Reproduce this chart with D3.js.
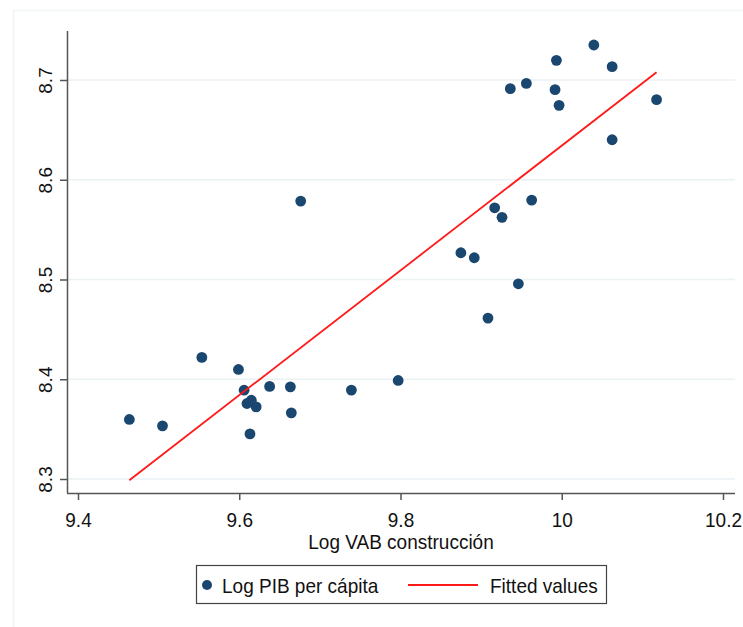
<!DOCTYPE html>
<html>
<head>
<meta charset="utf-8">
<script src="https://cdn.jsdelivr.net/npm/d3@7"></script>
<style>
  body { margin: 0; background: #fff; }
  svg { display: block; font-family: "Liberation Sans", Arial, sans-serif; }
</style>
</head>
<body>
<svg id="chart" width="743" height="627"></svg>
<script>
// Log VAB construcción (x) vs Log PIB per cápita (y)
const vab = [
  9.4637, 9.5048, 9.5536, 9.5990, 9.6060, 9.6096, 9.6150, 9.6210, 9.6133, 9.6377,
  9.6634, 9.6646, 9.6762, 9.7391, 9.7971, 9.8749, 9.8915, 9.9085, 9.9462, 9.9168,
  9.9259, 9.9627, 9.9362, 9.9561, 9.9917, 9.9934, 9.9967, 10.0398, 10.0625, 10.0625,
  10.1176
];
const pib = [
  8.3597, 8.3533, 8.4219, 8.4098, 8.3890, 8.3757, 8.3790, 8.3723, 8.3452, 8.3928,
  8.3924, 8.3663, 8.5786, 8.3891, 8.3988, 8.5268, 8.5218, 8.4613, 8.4957, 8.5719,
  8.5623, 8.5796, 8.6913, 8.6966, 8.6903, 8.7197, 8.6746, 8.7351, 8.7134, 8.6401,
  8.6803
];
// fitted values at the ends of the x range
const fitX = [9.4637, 10.1176];
const fitY = [8.2988, 8.7077];

const xTicks = [9.4, 9.6, 9.8, 10, 10.2];
const yTicks = [8.3, 8.4, 8.5, 8.6, 8.7];
const xTitle = "Log VAB construcción";
const legendLabels = ["Log PIB per cápita", "Fitted values"];

const NAVY = "#1a476f";
const RED = "#ff1a1a";
const GRID = "#eaf2f3";
const AXIS = "#555";
const STRETCH = 1.1; // the reference text is a bit taller than it is wide

const svg = d3.select("#chart");

// place a horizontal label with its baseline at (tx, ty), stretched vertically
function placeText(sel, tx, ty) {
  sel.attr("x", 0).attr("y", 0).attr("dy", null)
    .attr("transform", "translate(" + tx + "," + ty + ") scale(1," + STRETCH + ")")
    .attr("fill", "#111")
    .style("font-size", "19px");
}

// outer frame (only top and left visible)
svg.append("path")
  .attr("d", "M13.5,627 V10.5 H743")
  .attr("fill", "none")
  .attr("stroke", "#eef3f4")
  .attr("stroke-width", 1.5);

const plotLeft = 67, plotRight = 735, plotTop = 31, plotBottom = 493;

const x = d3.scaleLinear()
  .domain([9.4, 10.2])
  .range([78, 723]);
const y = d3.scaleLinear()
  .domain([8.3, 8.7])
  .range([479, 80]);

// gridlines
svg.append("g")
  .selectAll("line")
  .data(yTicks)
  .join("line")
  .attr("x1", plotLeft).attr("x2", plotRight)
  .attr("y1", d => y(d)).attr("y2", d => y(d))
  .attr("stroke", GRID)
  .attr("stroke-width", 1.6);

// y axis
let yAxis = svg.append("g")
  .attr("transform", "translate(" + plotLeft + ",0)")
  .call(d3.axisLeft(y).tickValues(yTicks).tickSize(7).tickSizeOuter(0).tickFormat(d3.format(".1f")));
yAxis.select(".domain").attr("d", "M0.5," + plotTop + "V" + plotBottom).attr("stroke", AXIS).attr("stroke-width", 1.5);
yAxis.selectAll(".tick line").attr("stroke", AXIS).attr("stroke-width", 1.5);
yAxis.selectAll(".tick text")
  .attr("x", null).attr("dy", null)
  .attr("transform", "translate(-15,0) rotate(-90)")
  .attr("text-anchor", "middle")
  .attr("fill", "#111")
  .style("font-size", "19px");

// x axis
let xAxis = svg.append("g")
  .attr("transform", "translate(0," + plotBottom + ")")
  .call(d3.axisBottom(x).tickValues(xTicks).tickSize(7).tickSizeOuter(0).tickFormat(d => String(+d.toFixed(1))));
xAxis.select(".domain").attr("d", "M" + plotLeft + ",0.5H" + plotRight).attr("stroke", AXIS).attr("stroke-width", 1.5);
xAxis.selectAll(".tick line").attr("stroke", AXIS).attr("stroke-width", 1.5);
xAxis.selectAll(".tick text").call(placeText, 0, 33.5);

svg.append("text")
  .attr("text-anchor", "middle")
  .text(xTitle)
  .call(placeText, (plotLeft + plotRight) / 2, 549);

// scatter points
svg.append("g")
  .selectAll("circle")
  .data(d3.range(vab.length))
  .join("circle")
  .attr("cx", i => x(vab[i]))
  .attr("cy", i => y(pib[i]))
  .attr("r", 5.4)
  .attr("fill", NAVY);

// fitted line
svg.append("path")
  .datum(d3.zip(fitX, fitY))
  .attr("d", d3.line().x(d => x(d[0])).y(d => y(d[1])))
  .attr("fill", "none")
  .attr("stroke", RED)
  .attr("stroke-width", 1.8);

// legend
let legend = svg.append("g");
legend.append("rect")
  .attr("x", 196.5).attr("y", 565.5)
  .attr("width", 410).attr("height", 38)
  .attr("fill", "#fff")
  .attr("stroke", "#444")
  .attr("stroke-width", 1.2);
legend.append("circle")
  .attr("cx", 207).attr("cy", 585)
  .attr("r", 5)
  .attr("fill", NAVY);
legend.append("text")
  .text(legendLabels[0])
  .call(placeText, 222, 593);
legend.append("line")
  .attr("x1", 408).attr("x2", 478)
  .attr("y1", 585).attr("y2", 585)
  .attr("stroke", RED)
  .attr("stroke-width", 2);
legend.append("text")
  .text(legendLabels[1])
  .call(placeText, 490, 593);
</script>
</body>
</html>
